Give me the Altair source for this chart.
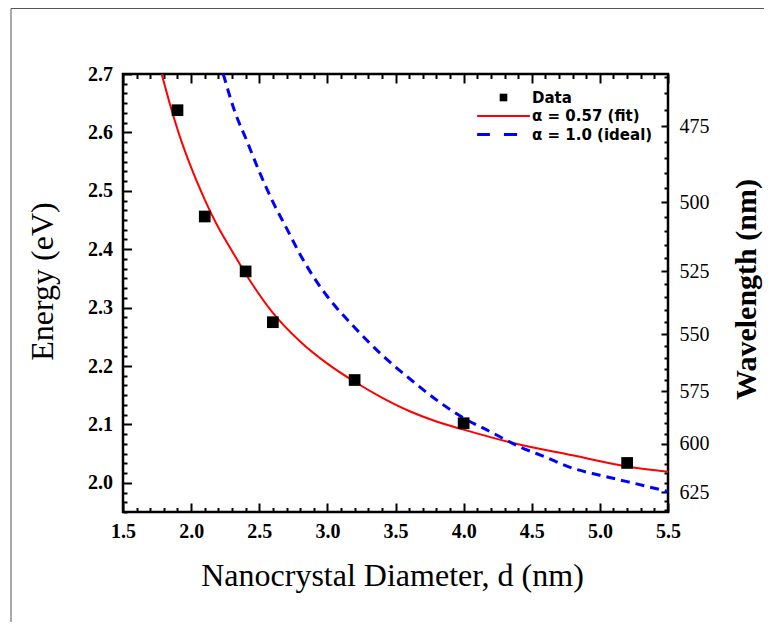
import altair as alt
import pandas as pd

# ---------------- values ----------------
diameter = [1.9, 2.1, 2.4, 2.6, 3.2, 4.0, 5.2]
energy = [2.638, 2.456, 2.362, 2.275, 2.176, 2.102, 2.034]

fit_d = [1.784, 1.85, 1.92, 2.0, 2.1, 2.2, 2.3, 2.4, 2.6, 2.8, 3.0, 3.2,
         3.4, 3.6, 3.8, 4.0, 4.4, 4.8, 5.2, 5.5]
fit_e = [2.700, 2.644, 2.591, 2.540, 2.485, 2.437, 2.397, 2.358, 2.291, 2.242,
         2.204, 2.173, 2.146, 2.123, 2.105, 2.091, 2.066, 2.047, 2.028, 2.019]

ideal_d = [2.236, 2.32, 2.41, 2.5, 2.6, 2.7, 2.8, 2.9, 3.0, 3.2, 3.4, 3.6,
           3.8, 4.0, 4.2, 4.4, 4.6, 4.8, 5.0, 5.2, 5.5]
ideal_e = [2.700, 2.636, 2.585, 2.533, 2.481, 2.436, 2.391, 2.352, 2.319, 2.266,
           2.219, 2.179, 2.142, 2.111, 2.087, 2.063, 2.044, 2.025, 2.013, 2.002, 1.985]

series_names = ["Data", "\u03b1 = 0.57 (fit)", "\u03b1 = 1.0 (ideal)"]
series_colors = ["#000000", "#ff0000", "#0000ff"]

x_domain = [1.5, 5.5]
y_domain = [1.95, 2.7]
HC = 1240.0  # eV*nm, energy <-> wavelength
wavelength_ticks = list(range(460, 640, 5))   # right axis, majors every 25 nm

# ---------------- tables ----------------
pts = pd.DataFrame({"d": diameter, "E": energy, "series": "Data"})
fit = pd.DataFrame({"d": fit_d, "E": fit_e})
ideal = pd.DataFrame({"d": ideal_d, "E": ideal_e})

x_ticks = [round(1.5 + 0.1 * i, 3) for i in range(41)]
y_ticks = [round(2.0 + i / 60.0, 6) for i in range(-3, 43)]
wl_energy = [HC / w for w in wavelength_ticks]

SERIF = "Liberation Serif"
SANS = "DejaVu Sans"

X_MAJ = "abs(datum.value*2 - round(datum.value*2)) < 0.001"
Y_MAJ = "abs(datum.value*10 - round(datum.value*10)) < 0.001"
W_MAJ = f"abs({HC}/datum.value/25 - round({HC}/datum.value/25)) < 0.01"

xs = alt.Scale(domain=x_domain, nice=False, zero=False)
ys = alt.Scale(domain=y_domain, nice=False, zero=False)

common = dict(domain=False, grid=False, tickColor="black", tickWidth=2,
              labelColor="black", labelOverlap=False, labelFlush=False,
              labelBound=False, titleColor="black")

bottom_axis = alt.Axis(
    orient="bottom", values=x_ticks,
    labelExpr=f"{X_MAJ} ? format(datum.value, '.1f') : ''",
    tickSize={"condition": {"test": X_MAJ, "value": -9}, "expr": "-4.5"},
    labelPadding=18, labelFont=SERIF, labelFontSize=20, labelFontWeight="bold",
    title="Nanocrystal Diameter, d (nm)", titleFont=SERIF, titleFontSize=32,
    titleFontWeight="normal", titleX=269, titleY=63, titleBaseline="middle",
    titleAlign="center", **common)

left_axis = alt.Axis(
    orient="left", values=y_ticks,
    labelExpr=f"{Y_MAJ} ? format(datum.value, '.1f') : ''",
    tickSize={"condition": {"test": Y_MAJ, "value": -8.5}, "expr": "-4"},
    labelPadding=19, labelFont=SERIF, labelFontSize=20, labelFontWeight="bold",
    title="Energy (eV)", titleFont=SERIF, titleFontSize=32,
    titleFontWeight="normal", titleAngle=270, titleX=-81, titleY=207,
    titleBaseline="middle", titleAlign="center", **common)

top_axis = alt.Axis(
    orient="top", values=x_ticks, labels=False, title=None,
    tickSize={"condition": {"test": X_MAJ, "value": -9}, "expr": "-4.5"},
    **common)

right_axis = alt.Axis(
    orient="right", values=wl_energy,
    labelExpr=f"{W_MAJ} ? format(round({HC}/datum.value), 'd') : ''",
    tickSize={"condition": {"test": W_MAJ, "value": -7}, "expr": "-4"},
    labelPadding=18, labelFont=SERIF, labelFontSize=20, labelFontWeight="normal",
    title="Wavelength (nm)", titleFont=SERIF, titleFontSize=30,
    titleFontWeight="bold", titleAngle=270, titleX=78, titleY=215,
    titleBaseline="middle", titleAlign="center", **common)

# legend symbols (normalised symbol paths)
series_shapes = [
    "M-0.45,-0.45H0.45V0.45H-0.45Z",
    "M-3.1,-0.12H3.1V0.12H-3.1Z",
    "M-3.1,-0.19H-1.6V0.19H-3.1Z M0.05,-0.19H1.6V0.19H0.05Z",
]

legend = alt.Legend(title=None, orient="top-right", offset=15, padding=0,
                    labelFont=SANS, labelFontSize=15, labelFontWeight="bold",
                    labelColor="black", symbolSize=289, symbolStrokeWidth=0,
                    labelOffset=20, rowPadding=1.5, labelLimit=400)

fit_layer = alt.Chart(fit).mark_line(
    color="#ff0000", strokeWidth=2, interpolate="monotone", clip=True
).encode(
    x=alt.X("d:Q", scale=xs, axis=bottom_axis),
    y=alt.Y("E:Q", scale=ys, axis=left_axis),
)

ideal_layer = alt.Chart(ideal).mark_line(
    color="#0000ff", strokeWidth=3, strokeDash=[9, 6], interpolate="monotone", clip=True
).encode(
    x=alt.X("d:Q", scale=xs, axis=None),
    y=alt.Y("E:Q", scale=ys, axis=None),
)

points_layer = alt.Chart(pts).mark_point(
    filled=True, size=676, opacity=1, strokeWidth=0
).encode(
    x=alt.X("d:Q", scale=xs, axis=top_axis),
    y=alt.Y("E:Q", scale=ys, axis=right_axis),
    color=alt.Color("series:N", scale=alt.Scale(domain=series_names, range=series_colors), legend=legend),
    shape=alt.Shape("series:N", scale=alt.Scale(domain=series_names, range=series_shapes), legend=legend),
)

frame_df = pd.DataFrame({"k": [0]})
frame_left = alt.Chart(frame_df).mark_rule(color="#555555", strokeWidth=1).encode(
    x=alt.value(-112), y=alt.value(-65.5), y2=alt.value(560))
frame_top = alt.Chart(frame_df).mark_rule(color="#555555", strokeWidth=1).encode(
    x=alt.value(-112), x2=alt.value(700), y=alt.value(-65.5))

chart = alt.layer(
    frame_left, frame_top, fit_layer, ideal_layer, points_layer
).resolve_axis(
    x="independent", y="independent"
).properties(
    width=545, height=438,
    padding={"left": 115, "top": 66, "right": 96, "bottom": 110},
    autosize=alt.AutoSizeParams(type="none"),
    background="white",
).configure_view(
    stroke="black", strokeWidth=2.5
)

chart.save("out.html", embed_options={"renderer": "svg", "actions": False})
